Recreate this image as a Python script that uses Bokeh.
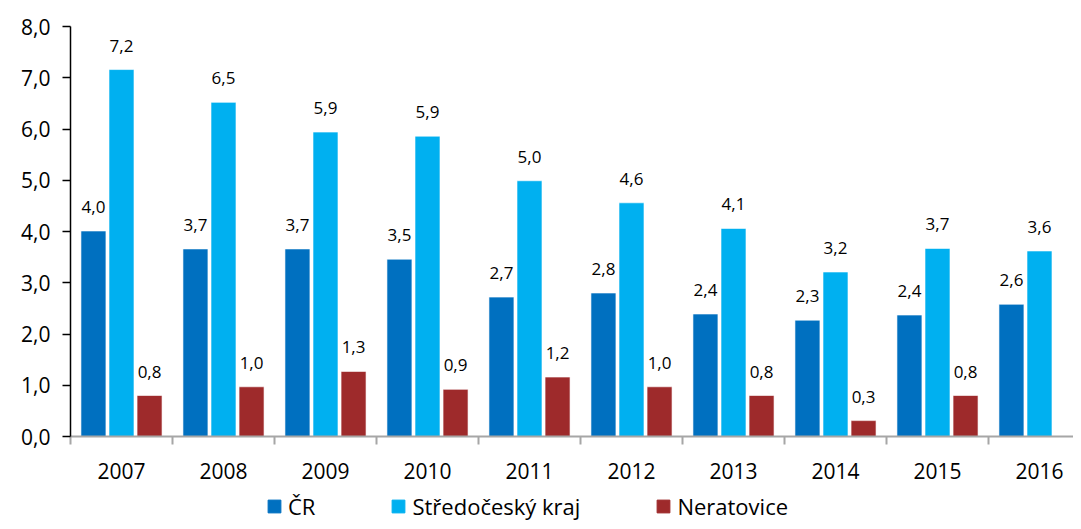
from bokeh.plotting import figure
from bokeh.layouts import column
from bokeh.models import (Range1d, FixedTicker, CustomJSTickFormatter, ColumnDataSource,
                          LabelSet, Legend, LegendItem)
from bokeh.core.properties import value
from bokeh.embed import file_html
from bokeh.resources import INLINE

years = ["2007", "2008", "2009", "2010", "2011", "2012", "2013", "2014", "2015", "2016"]
cr = [4.01, 3.66, 3.66, 3.46, 2.72, 2.80, 2.39, 2.27, 2.37, 2.58]
stredocesky = [7.16, 6.52, 5.94, 5.86, 4.99, 4.56, 4.06, 3.21, 3.67, 3.62]
neratovice = [0.80, 0.97, 1.27, 0.92, 1.16, 0.97, 0.80, 0.31, 0.80, None]

series = [
    ("ČR", cr, "#0070C0", -0.275),
    ("Středočeský kraj", stredocesky, "#00B0F0", 0.0),
    ("Neratovice", neratovice, "#9E2A2B", 0.275),
]

FONT = "Open Sans"
W = 1073

p = figure(width=W, height=491, output_backend="svg", toolbar_location=None,
           x_range=Range1d(0, (W - 70) / 102), y_range=Range1d(0, 8),
           min_border_left=70, min_border_right=0, min_border_top=26, min_border_bottom=55)
p.outline_line_color = None
p.grid.visible = False

# legend strip (separate figure so the legend is not clipped by the chart frame)
q = figure(width=W, height=30, output_backend="svg", toolbar_location=None,
           x_range=Range1d(0, 1), y_range=Range1d(0, 1),
           x_axis_location=None, y_axis_location=None,
           min_border_left=0, min_border_right=0, min_border_top=0, min_border_bottom=0)
q.outline_line_color = None
q.grid.visible = False

items = []
for name, vals, color, off in series:
    xs, tops, labels = [], [], []
    for i, v in enumerate(vals):
        if v is None:
            continue
        xs.append(i + 0.5 + off)
        tops.append(v)
        labels.append(f"{v:.1f}".replace(".", ","))
    src = ColumnDataSource(dict(x=xs, top=tops, label=labels))
    p.vbar(x="x", top="top", bottom=0, width=0.245, source=src,
           fill_color=color, line_color="white", line_width=0.6)
    ls = LabelSet(x="x", y="top", text="label", source=src, text_align="center",
                  text_baseline="alphabetic", y_offset=18, text_font=value(FONT),
                  text_font_size="17px", text_color="#000000")
    p.add_layout(ls)
    # legend proxy placed outside the strip's visible range
    r = q.vbar(x=[-10], top=[-10], bottom=[-11], width=0.1, fill_color=color, line_color=color)
    items.append(LegendItem(label=name, renderers=[r]))

# Y axis
p.yaxis.ticker = FixedTicker(ticks=[0, 1, 2, 3, 4, 5, 6, 7, 8])
p.yaxis.formatter = CustomJSTickFormatter(code="return tick.toFixed(1).replace('.', ',');")
p.yaxis.axis_line_color = "#000000"
p.yaxis.axis_line_width = 1.5
p.yaxis.major_tick_line_color = "#000000"
p.yaxis.major_tick_line_width = 1.5
p.yaxis.major_tick_out = 8
p.yaxis.major_tick_in = 0
p.yaxis.minor_tick_line_color = None
p.yaxis.major_label_standoff = 12
p.yaxis.major_label_text_font = FONT
p.yaxis.major_label_text_font_size = "21px"
p.yaxis.major_label_text_color = "#000000"

# X axis
p.xaxis.ticker = FixedTicker(ticks=[i + 0.5 for i in range(len(years))],
                             minor_ticks=list(range(len(years) + 1)))
p.xaxis.formatter = CustomJSTickFormatter(args=dict(years=years),
                                          code="return years[Math.floor(tick)];")
p.xaxis.axis_line_color = "#A6A6A6"
p.xaxis.axis_line_width = 2
p.xaxis.major_tick_line_color = None
p.xaxis.minor_tick_line_color = "#A6A6A6"
p.xaxis.minor_tick_line_width = 2
p.xaxis.minor_tick_out = 8
p.xaxis.minor_tick_in = 0
p.xaxis.major_label_standoff = 18
p.xaxis.major_label_text_font = FONT
p.xaxis.major_label_text_font_size = "21px"
p.xaxis.major_label_text_color = "#000000"

legend = Legend(items=items, orientation="horizontal", location=(196, 0),
                glyph_width=16, glyph_height=16, label_standoff=6, spacing=75,
                label_text_font=FONT, label_text_font_size="22px",
                label_text_color="#000000", border_line_color=None,
                background_fill_alpha=0, padding=0, margin=0)
q.add_layout(legend, "center")

layout = column(p, q, spacing=0)
open("out.html", "w").write(file_html(layout, INLINE))
